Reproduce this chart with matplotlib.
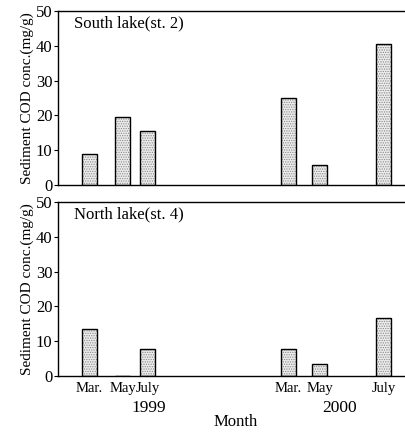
import matplotlib.pyplot as plt

plt.rcParams['font.family'] = ['Liberation Serif', 'DejaVu Serif']
plt.rcParams['hatch.linewidth'] = 0.6

# Data
months = ['Mar.', 'May', 'July', 'Mar.', 'May', 'July']
years = ['1999', '2000']
south = [8.8, 19.5, 15.5, 25.0, 5.8, 40.5]
north = [13.4, 0.0, 7.7, 7.8, 3.4, 16.6]
panels = ['South lake(st. 2)', 'North lake(st. 4)']

# layout positions along the month axis
xpos = [31.5, 65, 89.5, 230.5, 261.5, 325.5]

fig = plt.figure(figsize=(4.06, 4.33), dpi=100)
W, H = 406, 433
ax1 = fig.add_axes([58 / W, (H - 185) / H, 346 / W, 174 / H])
ax2 = fig.add_axes([58 / W, (H - 376) / H, 346 / W, 174 / H])

for ax, vals, title in [(ax1, south, panels[0]), (ax2, north, panels[1])]:
    ax.bar(xpos, vals, width=15, color='#ececec', edgecolor='#8a8a8a',
           hatch='.......', linewidth=0)
    ax.bar(xpos, vals, width=15, fill=False, edgecolor='black', linewidth=1.0)
    ax.set_xlim(0, 346)
    ax.set_ylim(0, 50)
    ax.set_yticks([0, 10, 20, 30, 40, 50])
    ax.spines['right'].set_visible(False)
    for s in ['left', 'top', 'bottom']:
        ax.spines[s].set_linewidth(1.0)
    ax.tick_params(axis='y', direction='out', length=3, labelsize=12, pad=1)
    ax.set_ylabel('Sediment COD conc.(mg/g)', fontsize=11, labelpad=1)
    ax.text(0.045, 0.93, title, transform=ax.transAxes, fontsize=12,
            va='center', ha='left')

ax1.set_xticks([])
ax2.set_xticks(xpos)
ax2.set_xticklabels(months, fontsize=10.5)
ax2.tick_params(axis='x', length=0, pad=4)

fig.text(149 / W, 1 - 408 / H, years[0], ha='center', va='center', fontsize=12.5)
fig.text(340 / W, 1 - 408 / H, years[1], ha='center', va='center', fontsize=12.5)
fig.text(236 / W, 1 - 422 / H, 'Month', ha='center', va='center', fontsize=12)

fig.savefig('out.png', dpi=100)
